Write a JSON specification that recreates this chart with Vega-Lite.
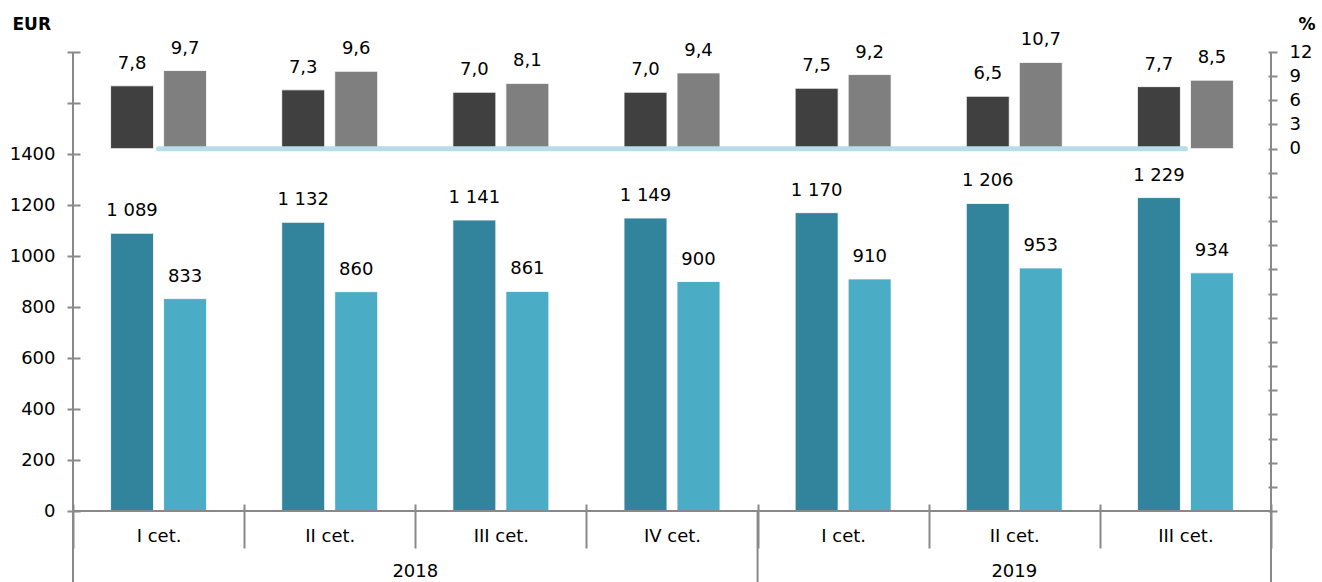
{
  "$schema": "https://vega.github.io/schema/vega-lite/v6.json",
  "width": 1198,
  "height": 459,
  "autosize": {"type": "none"},
  "padding": {"left": 73, "top": 52, "right": 51, "bottom": 71},
  "background": "white",
  "config": {
    "locale": {"number": {"decimal": ",", "thousands": " ", "grouping": [3], "currency": ["", ""]}},
    "font": "DejaVu Sans",
    "view": {"stroke": null},
    "axis": {
      "labelFont": "DejaVu Sans",
      "labelFontSize": 18,
      "labelColor": "#000000",
      "domainColor": "#898989",
      "tickColor": "#898989",
      "domainWidth": 2,
      "tickWidth": 2,
      "grid": false,
      "labelOverlap": false,
      "labelFlush": false,
      "titleFont": "DejaVu Sans"
    },
    "text": {"font": "DejaVu Sans", "fontSize": 18, "color": "#000000"}
  },
  "datasets": {
    "eur": [
      {"k": "2018-I", "s": 1, "v": 1089}, {"k": "2018-I", "s": 2, "v": 833},
      {"k": "2018-II", "s": 1, "v": 1132}, {"k": "2018-II", "s": 2, "v": 860},
      {"k": "2018-III", "s": 1, "v": 1141}, {"k": "2018-III", "s": 2, "v": 861},
      {"k": "2018-IV", "s": 1, "v": 1149}, {"k": "2018-IV", "s": 2, "v": 900},
      {"k": "2019-I", "s": 1, "v": 1170}, {"k": "2019-I", "s": 2, "v": 910},
      {"k": "2019-II", "s": 1, "v": 1206}, {"k": "2019-II", "s": 2, "v": 953},
      {"k": "2019-III", "s": 1, "v": 1229}, {"k": "2019-III", "s": 2, "v": 934}
    ],
    "pct": [
      {"k": "2018-I", "s": 1, "v": 7.8}, {"k": "2018-I", "s": 2, "v": 9.7},
      {"k": "2018-II", "s": 1, "v": 7.3}, {"k": "2018-II", "s": 2, "v": 9.6},
      {"k": "2018-III", "s": 1, "v": 7.0}, {"k": "2018-III", "s": 2, "v": 8.1},
      {"k": "2018-IV", "s": 1, "v": 7.0}, {"k": "2018-IV", "s": 2, "v": 9.4},
      {"k": "2019-I", "s": 1, "v": 7.5}, {"k": "2019-I", "s": 2, "v": 9.2},
      {"k": "2019-II", "s": 1, "v": 6.5}, {"k": "2019-II", "s": 2, "v": 10.7},
      {"k": "2019-III", "s": 1, "v": 7.7}, {"k": "2019-III", "s": 2, "v": 8.5}
    ],
    "zero": [
      {"k": "2018-I", "v": 0}, {"k": "2018-II", "v": 0}, {"k": "2018-III", "v": 0},
      {"k": "2018-IV", "v": 0}, {"k": "2019-I", "v": 0}, {"k": "2019-II", "v": 0},
      {"k": "2019-III", "v": 0}
    ]
  },
  "layer": [
    {
      "data": {"name": "eur"},
      "layer": [
        {
          "mark": {"type": "bar", "stroke": "#ffffff", "strokeWidth": 0.8},
          "encoding": {
            "x": {
              "field": "k", "type": "nominal", "sort": null, "title": null,
              "scale": {"type": "band", "paddingInner": 0, "paddingOuter": 0,
                "domain": ["2018-I", "2018-II", "2018-III", "2018-IV", "2019-I", "2019-II", "2019-III"]},
              "axis": {
                "orient": "bottom", "offset": -7, "domain": false, "tickSize": 44,
                "tickBand": "extent", "labelAngle": 0, "labelBaseline": "middle",
                "labelPadding": -12, "labelExpr": "isString(datum.value) ? split(datum.value, '-')[1] + ' cet.' : ''"
              }
            },
            "xOffset": {"field": "s", "type": "nominal", "scale": {"paddingInner": 0.19, "paddingOuter": 0.709}},
            "y": {
              "field": "v", "type": "quantitative",
              "scale": {"domain": [0, 1800], "nice": false, "zero": false},
              "axis": {
                "orient": "left", "offset": -7, "domain": false, "tickSize": 13, "tickCount": 30,
                "values": [0, 200, 400, 600, 800, 1000, 1200, 1400, 1600, 1800],
                "format": "d", "labelPadding": 12,
                "labelExpr": "datum.value <= 1400 ? datum.label : ''",
                "title": "EUR", "titleAngle": 0, "titleFontWeight": "bold", "titleFontSize": 17,
                "titleAlign": "left", "titleBaseline": "alphabetic", "titleX": -68, "titleY": -23
              }
            },
            "color": {"field": "s", "type": "nominal", "legend": null, "scale": {"range": ["#31849b", "#4bacc6"]}}
          }
        },
        {
          "mark": {"type": "text", "baseline": "middle", "dy": -22},
          "encoding": {
            "x": {"field": "k", "type": "nominal", "title": null},
            "xOffset": {"field": "s", "type": "nominal"},
            "y": {"field": "v", "type": "quantitative"},
            "text": {"field": "v", "type": "quantitative", "format": ",d"}
          }
        },
        {
          "data": {"values": [{}]},
          "mark": {"type": "rule", "color": "#898989", "strokeWidth": 2},
          "encoding": {"y": {"datum": 0}}
        },
        {
          "data": {"values": [{"k": "2018-I"}]},
          "mark": {"type": "rule", "color": "#898989", "strokeWidth": 2},
          "encoding": {
            "x": {"field": "k", "type": "nominal", "bandPosition": 0, "title": null},
            "y": {"datum": 1800}, "y2": {"datum": -285}
          }
        },
        {
          "data": {"values": [{"k": "2019-I"}]},
          "mark": {"type": "rule", "color": "#898989", "strokeWidth": 2},
          "encoding": {
            "x": {"field": "k", "type": "nominal", "bandPosition": 0, "title": null},
            "y": {"datum": 0}, "y2": {"datum": -285}
          }
        },
        {
          "data": {"values": [{"k": "2019-III"}]},
          "mark": {"type": "rule", "color": "#898989", "strokeWidth": 2},
          "encoding": {
            "x": {"field": "k", "type": "nominal", "bandPosition": 1, "title": null},
            "y": {"datum": 1800}, "y2": {"datum": -285}
          }
        },
        {
          "data": {"values": [{"k": "2018-II", "t": "2018"}]},
          "mark": {"type": "text", "baseline": "middle"},
          "encoding": {
            "x": {"field": "k", "type": "nominal", "bandPosition": 1, "title": null},
            "y": {"datum": -240},
            "text": {"field": "t"}
          }
        },
        {
          "data": {"values": [{"k": "2019-II", "t": "2019"}]},
          "mark": {"type": "text", "baseline": "middle"},
          "encoding": {
            "x": {"field": "k", "type": "nominal", "bandPosition": 0.5, "title": null},
            "y": {"datum": -240},
            "text": {"field": "t"}
          }
        }
      ]
    },
    {
      "layer": [
        {
          "data": {"name": "pct"},
          "mark": {"type": "bar", "stroke": "#ffffff", "strokeWidth": 0.8},
          "encoding": {
            "x": {"field": "k", "type": "nominal", "title": null},
            "xOffset": {"field": "s", "type": "nominal"},
            "y": {
              "field": "v", "type": "quantitative",
              "scale": {"domain": [-45, 12], "nice": false, "zero": false},
              "axis": {
                "orient": "right", "offset": -3, "domain": false, "tickSize": 9, "tickCount": 40,
                "values": [-45, -42, -39, -36, -33, -30, -27, -24, -21, -18, -15, -12, -9, -6, -3, 0, 3, 6, 9, 12],
                "format": "d", "labelPadding": 12,
                "labelExpr": "datum.value >= 0 ? datum.label : ''",
                "title": "%", "titleAngle": 0, "titleFontWeight": "bold", "titleFontSize": 17,
                "titleAlign": "left", "titleBaseline": "alphabetic", "titleX": 30, "titleY": -23
              }
            },
            "color": {"field": "s", "type": "nominal", "legend": null, "scale": {"range": ["#404040", "#7f7f7f"]}}
          }
        },
        {
          "data": {"name": "pct"},
          "mark": {"type": "text", "baseline": "middle", "dy": -22},
          "encoding": {
            "x": {"field": "k", "type": "nominal", "title": null},
            "xOffset": {"field": "s", "type": "nominal"},
            "y": {"field": "v", "type": "quantitative"},
            "text": {"field": "v", "type": "quantitative", "format": ".1f"}
          }
        },
        {
          "data": {"name": "zero"},
          "mark": {"type": "line", "color": "#b7dee8", "strokeWidth": 5, "strokeCap": "round"},
          "encoding": {
            "x": {"field": "k", "type": "nominal", "title": null},
            "y": {"field": "v", "type": "quantitative"}
          }
        }
      ]
    }
  ],
  "resolve": {"scale": {"y": "independent", "color": "independent"}}
}
